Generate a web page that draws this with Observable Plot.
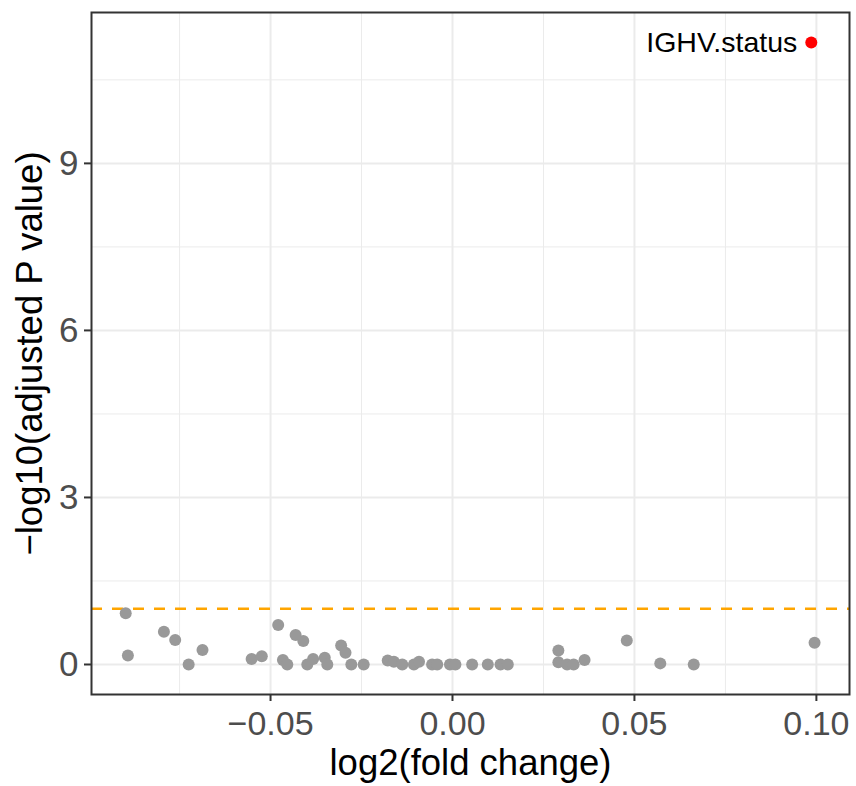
<!DOCTYPE html>
<html>
<head>
<meta charset="utf-8">
<script src="https://cdn.jsdelivr.net/npm/d3@7"></script>
<script src="https://cdn.jsdelivr.net/npm/@observablehq/plot@0.6"></script>
<style>
  html, body { margin: 0; padding: 0; background: #fff; }
  #chart svg { display: block; }
</style>
</head>
<body>
<div id="chart"></div>
<script>
// Non-significant features: log2 fold change and -log10 adjusted p
const fcGray = [-0.0898, -0.0892, -0.0793, -0.0762, -0.0725, -0.0687, -0.0552, -0.0524, -0.0479, -0.0466,
  -0.0454, -0.0431, -0.0410, -0.0399, -0.0383, -0.0351, -0.0344, -0.0306, -0.0294, -0.0278,
  -0.0244, -0.0178, -0.0161, -0.0138, -0.0106, -0.0092, -0.0056, -0.0042, -0.0007, 0.0008,
  0.0054, 0.0097, 0.0132, 0.0152, 0.0291, 0.0291, 0.0315, 0.0333, 0.0363, 0.0479,
  0.0571, 0.0663, 0.0995];
const pGray = [0.92, 0.16, 0.59, 0.44, 0.00, 0.26, 0.10, 0.15, 0.71, 0.08,
  0.00, 0.53, 0.42, 0.00, 0.10, 0.12, 0.00, 0.34, 0.21, 0.00,
  0.00, 0.07, 0.05, 0.00, 0.00, 0.05, 0.00, 0.00, 0.00, 0.00,
  0.00, 0.00, 0.00, 0.00, 0.25, 0.04, 0.00, 0.00, 0.08, 0.43,
  0.02, 0.00, 0.39];

// Significant feature
const sigNames = ["IGHV.status"];
const fcSig = [0.0986];
const pSig = [11.17];

const threshold = 1; // -log10(0.1)

const xTicks = [-0.05, 0, 0.05, 0.10];
const xTickLabels = ["\u22120.05", "0.00", "0.05", "0.10"];
const xMinor = [-0.075, -0.025, 0.025, 0.075];
const yTicks = [0, 3, 6, 9];
const yMinor = [1.5, 4.5, 7.5, 10.5];
const xTitle = "log2(fold change)";
const yTitle = "\u2212log10(adjusted P value)";

const gray = fcGray.map((x, i) => ({x, y: pGray[i]}));
const sig = fcSig.map((x, i) => ({x, y: pSig[i], name: sigNames[i]}));

const font = "'Liberation Sans', Arial, Helvetica, sans-serif";

const plot = Plot.plot({
  width: 856,
  height: 786,
  marginLeft: 91,
  marginRight: 7,
  marginTop: 12,
  marginBottom: 92,
  style: {fontFamily: font, background: "#fff"},
  x: {domain: [-0.0992, 0.1091]},
  y: {domain: [-0.539, 11.71]},
  marks: [
    Plot.gridX(xMinor, {stroke: "#EBEBEB", strokeOpacity: 1, strokeWidth: 1}),
    Plot.gridY(yMinor, {stroke: "#EBEBEB", strokeOpacity: 1, strokeWidth: 1}),
    Plot.gridX(xTicks, {stroke: "#EBEBEB", strokeOpacity: 1, strokeWidth: 2}),
    Plot.gridY(yTicks, {stroke: "#EBEBEB", strokeOpacity: 1, strokeWidth: 2}),
    Plot.ruleY([threshold], {stroke: "#FFA500", strokeWidth: 2.4, strokeDasharray: "11,10"}),
    Plot.dot(gray, {x: "x", y: "y", r: 6, fill: "#999999", stroke: null}),
    Plot.dot(sig, {x: "x", y: "y", r: 6, fill: "#FF0000", stroke: null}),
    Plot.text(sig, {x: "x", y: "y", text: "name", textAnchor: "end", dx: -14, fontSize: 28.5, fill: "#000"}),
    Plot.frame({stroke: "#333333", strokeWidth: 2}),
    Plot.axisX({ticks: xTicks, tickFormat: d => xTickLabels[xTicks.indexOf(d)], tickSize: 7, tickPadding: 9,
      fontSize: 34, stroke: "#333333", strokeWidth: 2, color: "#4D4D4D",
      label: xTitle, labelAnchor: "center", labelArrow: "none", labelOffset: 80}),
    Plot.axisY({ticks: yTicks, tickFormat: d => String(d), tickSize: 7, tickPadding: 6,
      fontSize: 35, stroke: "#333333", strokeWidth: 2, color: "#4D4D4D",
      label: yTitle, labelAnchor: "center", labelArrow: "none", labelOffset: 75})
  ]
});
document.getElementById("chart").appendChild(plot);
// Axis titles: larger and black, like the reference
d3.select(plot).selectAll("g[aria-label='x-axis label'] text, g[aria-label='y-axis label'] text")
  .style("font-size", "36.5px").attr("fill", "#000");
</script>
</body>
</html>
